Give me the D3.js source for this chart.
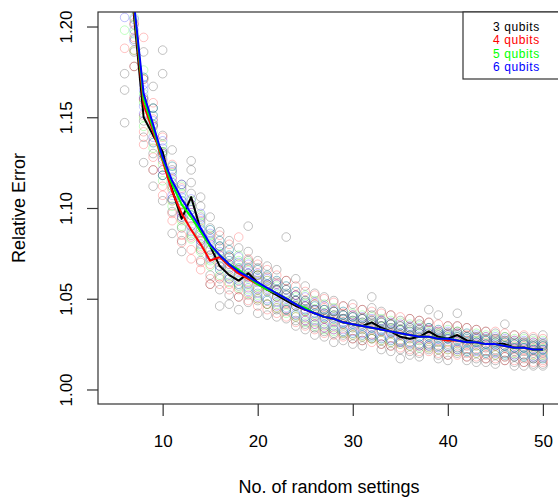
<!DOCTYPE html>
<html>
<head>
<meta charset="utf-8">
<script src="https://cdn.jsdelivr.net/npm/d3@7"></script>
<style>
  body { margin: 0; background: #fff; }
  svg text { font-family: "Liberation Sans", Arial, sans-serif; }
</style>
</head>
<body>
<svg id="chart" width="558" height="497"></svg>
<script>
// ---- data ----
const settings = [6, 7, 8, 9, 10, 11, 12, 13, 14, 15, 16, 17, 18, 19, 20, 21, 22, 23, 24, 25, 26, 27, 28,
  29, 30, 31, 32, 33, 34, 35, 36, 37, 38, 39, 40, 41, 42, 43, 44, 45, 46, 47, 48, 49, 50];

const seriesNames = ["3 qubits", "4 qubits", "5 qubits", "6 qubits"];
const seriesColors = ["#000000", "#ff0000", "#00ff00", "#0000ff"];

// mean relative error (lines)
const q3Mean = [1.260, 1.205, 1.150, 1.140, 1.131, 1.110, 1.094, 1.106, 1.088, 1.079, 1.068, 1.063, 1.060, 1.064, 1.059,
  1.055, 1.052, 1.049, 1.046, 1.044, 1.042, 1.040, 1.039, 1.037, 1.036, 1.035, 1.037, 1.034, 1.032, 1.029, 1.028,
  1.029, 1.032, 1.029, 1.028, 1.030, 1.027, 1.026, 1.025, 1.025, 1.025, 1.023, 1.023, 1.022, 1.022];
const q4Mean = [1.270, 1.208, 1.157, 1.142, 1.126, 1.109, 1.097, 1.088, 1.080, 1.071, 1.073, 1.068, 1.064, 1.061, 1.058,
  1.055, 1.053, 1.050, 1.047, 1.044, 1.042, 1.040, 1.039, 1.037, 1.036, 1.035, 1.034, 1.033, 1.032, 1.031, 1.030,
  1.029, 1.029, 1.028, 1.027, 1.027, 1.026, 1.026, 1.025, 1.025, 1.024, 1.023, 1.023, 1.022, 1.022];
const q5Mean = [1.270, 1.210, 1.160, 1.144, 1.127, 1.113, 1.102, 1.095, 1.087, 1.079, 1.074, 1.069, 1.066, 1.062, 1.058,
  1.055, 1.053, 1.050, 1.047, 1.045, 1.042, 1.040, 1.039, 1.037, 1.036, 1.035, 1.034, 1.033, 1.032, 1.031, 1.030,
  1.029, 1.029, 1.028, 1.028, 1.027, 1.026, 1.026, 1.025, 1.025, 1.024, 1.023, 1.023, 1.022, 1.022];
const q6Mean = [1.270, 1.212, 1.163, 1.146, 1.128, 1.115, 1.105, 1.097, 1.089, 1.080, 1.074, 1.069, 1.065, 1.062, 1.059,
  1.056, 1.053, 1.050, 1.047, 1.044, 1.042, 1.040, 1.039, 1.037, 1.036, 1.035, 1.034, 1.033, 1.032, 1.031, 1.030,
  1.029, 1.029, 1.028, 1.028, 1.027, 1.026, 1.026, 1.025, 1.025, 1.024, 1.023, 1.023, 1.022, 1.022];

// individual runs (circles), one row per number of settings
const q3Pts = [
  [1.174, 1.165, 1.147, 1.232, 1.281, 1.305], [1.186, 1.193, 1.178, 1.215, 1.240, 1.201],
  [1.171, 1.148, 1.125, 1.139, 1.160, 1.186], [1.167, 1.130, 1.112, 1.146, 1.155, 1.121],
  [1.187, 1.174, 1.131, 1.104, 1.118, 1.140], [1.098, 1.121, 1.086, 1.112, 1.105, 1.132],
  [1.076, 1.089, 1.102, 1.082, 1.113, 1.095], [1.121, 1.114, 1.099, 1.108, 1.085, 1.126],
  [1.071, 1.095, 1.083, 1.106, 1.077, 1.101], [1.063, 1.089, 1.074, 1.095, 1.058, 1.082],
  [1.046, 1.061, 1.079, 1.068, 1.087, 1.055], [1.052, 1.073, 1.061, 1.082, 1.047, 1.067],
  [1.044, 1.066, 1.057, 1.078, 1.051, 1.063], [1.090, 1.071, 1.058, 1.064, 1.048, 1.076],
  [1.042, 1.063, 1.071, 1.055, 1.049, 1.067], [1.047, 1.062, 1.055, 1.068, 1.041, 1.058],
  [1.044, 1.059, 1.051, 1.066, 1.040, 1.055], [1.084, 1.047, 1.039, 1.053, 1.060, 1.044],
  [1.038, 1.052, 1.046, 1.061, 1.035, 1.049], [1.036, 1.048, 1.043, 1.057, 1.033, 1.046],
  [1.034, 1.047, 1.040, 1.053, 1.030, 1.044], [1.032, 1.044, 1.039, 1.051, 1.029, 1.041],
  [1.031, 1.043, 1.037, 1.049, 1.026, 1.040], [1.030, 1.041, 1.036, 1.046, 1.027, 1.039],
  [1.028, 1.040, 1.034, 1.047, 1.025, 1.037], [1.027, 1.039, 1.033, 1.044, 1.024, 1.036],
  [1.030, 1.045, 1.037, 1.051, 1.028, 1.041], [1.025, 1.038, 1.032, 1.043, 1.022, 1.035],
  [1.024, 1.036, 1.031, 1.041, 1.021, 1.033], [1.017, 1.030, 1.026, 1.038, 1.022, 1.033],
  [1.021, 1.033, 1.028, 1.039, 1.019, 1.030], [1.020, 1.032, 1.027, 1.038, 1.018, 1.036],
  [1.024, 1.037, 1.031, 1.044, 1.022, 1.034], [1.019, 1.031, 1.026, 1.041, 1.017, 1.029],
  [1.019, 1.030, 1.025, 1.035, 1.016, 1.028], [1.022, 1.035, 1.029, 1.042, 1.020, 1.032],
  [1.018, 1.029, 1.024, 1.034, 1.016, 1.027], [1.017, 1.028, 1.024, 1.033, 1.015, 1.026],
  [1.017, 1.027, 1.023, 1.032, 1.015, 1.025], [1.016, 1.027, 1.022, 1.031, 1.014, 1.024],
  [1.018, 1.029, 1.024, 1.036, 1.016, 1.026], [1.015, 1.025, 1.021, 1.030, 1.013, 1.023],
  [1.015, 1.025, 1.021, 1.029, 1.013, 1.023], [1.014, 1.024, 1.020, 1.028, 1.013, 1.022],
  [1.014, 1.024, 1.020, 1.030, 1.013, 1.022]];
const q4Pts = [
  [1.188, 1.215, 1.262, 1.291, 1.243, 1.320], [1.194, 1.178, 1.202, 1.221, 1.187, 1.235],
  [1.194, 1.160, 1.142, 1.151, 1.171, 1.135], [1.128, 1.149, 1.137, 1.158, 1.121, 1.145],
  [1.112, 1.130, 1.121, 1.139, 1.107, 1.126], [1.097, 1.116, 1.104, 1.124, 1.093, 1.110],
  [1.085, 1.102, 1.094, 1.111, 1.081, 1.098], [1.077, 1.094, 1.084, 1.102, 1.072, 1.090],
  [1.070, 1.086, 1.078, 1.093, 1.066, 1.082], [1.061, 1.077, 1.069, 1.084, 1.058, 1.073],
  [1.062, 1.078, 1.070, 1.085, 1.058, 1.074], [1.058, 1.073, 1.066, 1.080, 1.055, 1.069],
  [1.055, 1.069, 1.062, 1.084, 1.051, 1.066], [1.052, 1.066, 1.059, 1.072, 1.049, 1.062],
  [1.050, 1.063, 1.056, 1.069, 1.046, 1.060], [1.047, 1.060, 1.054, 1.066, 1.044, 1.057],
  [1.045, 1.058, 1.051, 1.063, 1.042, 1.055], [1.043, 1.055, 1.048, 1.060, 1.040, 1.052],
  [1.040, 1.052, 1.046, 1.057, 1.037, 1.049], [1.038, 1.049, 1.043, 1.054, 1.035, 1.046],
  [1.036, 1.047, 1.041, 1.052, 1.033, 1.044], [1.034, 1.045, 1.039, 1.050, 1.031, 1.042],
  [1.033, 1.043, 1.038, 1.048, 1.030, 1.041], [1.031, 1.042, 1.036, 1.046, 1.029, 1.039],
  [1.030, 1.041, 1.035, 1.045, 1.028, 1.038], [1.029, 1.039, 1.034, 1.044, 1.027, 1.037],
  [1.028, 1.038, 1.033, 1.043, 1.026, 1.036], [1.027, 1.037, 1.032, 1.042, 1.025, 1.035],
  [1.026, 1.036, 1.031, 1.041, 1.024, 1.034], [1.025, 1.035, 1.030, 1.040, 1.023, 1.033],
  [1.024, 1.034, 1.029, 1.039, 1.022, 1.032], [1.024, 1.033, 1.028, 1.038, 1.021, 1.031],
  [1.023, 1.033, 1.028, 1.037, 1.021, 1.030], [1.022, 1.032, 1.027, 1.036, 1.020, 1.030],
  [1.022, 1.031, 1.026, 1.035, 1.019, 1.029], [1.021, 1.031, 1.026, 1.035, 1.019, 1.028],
  [1.020, 1.030, 1.025, 1.034, 1.018, 1.027], [1.020, 1.029, 1.025, 1.033, 1.018, 1.027],
  [1.019, 1.029, 1.024, 1.032, 1.017, 1.026], [1.019, 1.028, 1.024, 1.032, 1.017, 1.026],
  [1.018, 1.027, 1.023, 1.031, 1.016, 1.025], [1.018, 1.027, 1.022, 1.030, 1.016, 1.024],
  [1.017, 1.026, 1.022, 1.030, 1.015, 1.024], [1.017, 1.026, 1.021, 1.029, 1.015, 1.023],
  [1.016, 1.025, 1.021, 1.028, 1.015, 1.023]];
const q5Pts = [
  [1.198, 1.230, 1.262, 1.285, 1.251, 1.300], [1.187, 1.205, 1.196, 1.220, 1.212, 1.228],
  [1.150, 1.172, 1.163, 1.158, 1.145, 1.176], [1.136, 1.151, 1.142, 1.133, 1.155, 1.146],
  [1.118, 1.135, 1.124, 1.131, 1.115, 1.129], [1.104, 1.119, 1.111, 1.123, 1.101, 1.114],
  [1.093, 1.108, 1.099, 1.112, 1.090, 1.104], [1.086, 1.101, 1.093, 1.104, 1.083, 1.096],
  [1.079, 1.092, 1.085, 1.096, 1.076, 1.089], [1.071, 1.085, 1.077, 1.088, 1.068, 1.081],
  [1.066, 1.079, 1.072, 1.082, 1.063, 1.075], [1.062, 1.074, 1.068, 1.077, 1.059, 1.071],
  [1.058, 1.071, 1.064, 1.074, 1.056, 1.067], [1.055, 1.067, 1.061, 1.070, 1.053, 1.063],
  [1.052, 1.063, 1.057, 1.066, 1.050, 1.060], [1.049, 1.060, 1.054, 1.063, 1.047, 1.057],
  [1.047, 1.057, 1.052, 1.060, 1.045, 1.055], [1.044, 1.055, 1.049, 1.057, 1.042, 1.052],
  [1.041, 1.051, 1.046, 1.054, 1.040, 1.049], [1.039, 1.049, 1.044, 1.052, 1.037, 1.047],
  [1.037, 1.046, 1.042, 1.049, 1.035, 1.044], [1.035, 1.044, 1.040, 1.047, 1.033, 1.042],
  [1.034, 1.043, 1.039, 1.045, 1.032, 1.041], [1.032, 1.041, 1.037, 1.043, 1.031, 1.039],
  [1.031, 1.040, 1.036, 1.042, 1.030, 1.038], [1.030, 1.039, 1.035, 1.041, 1.029, 1.037],
  [1.029, 1.038, 1.034, 1.040, 1.028, 1.036], [1.028, 1.037, 1.033, 1.039, 1.027, 1.035],
  [1.027, 1.036, 1.032, 1.038, 1.026, 1.034], [1.027, 1.035, 1.031, 1.037, 1.025, 1.033],
  [1.026, 1.034, 1.030, 1.036, 1.024, 1.032], [1.025, 1.033, 1.029, 1.035, 1.023, 1.031],
  [1.025, 1.032, 1.029, 1.034, 1.023, 1.030], [1.024, 1.031, 1.028, 1.033, 1.022, 1.030],
  [1.024, 1.031, 1.028, 1.033, 1.022, 1.029], [1.023, 1.030, 1.027, 1.032, 1.021, 1.029],
  [1.022, 1.029, 1.026, 1.031, 1.021, 1.028], [1.022, 1.029, 1.026, 1.031, 1.020, 1.027],
  [1.021, 1.028, 1.025, 1.030, 1.020, 1.027], [1.021, 1.028, 1.025, 1.030, 1.019, 1.026],
  [1.020, 1.027, 1.024, 1.029, 1.019, 1.026], [1.020, 1.026, 1.023, 1.028, 1.018, 1.025],
  [1.019, 1.026, 1.023, 1.028, 1.018, 1.025], [1.019, 1.025, 1.022, 1.027, 1.017, 1.024],
  [1.019, 1.025, 1.022, 1.027, 1.017, 1.024]];
const q6Pts = [
  [1.205, 1.238, 1.260, 1.282, 1.270, 1.295], [1.192, 1.204, 1.211, 1.219, 1.198, 1.226],
  [1.156, 1.168, 1.161, 1.172, 1.152, 1.165], [1.139, 1.151, 1.145, 1.155, 1.136, 1.148],
  [1.121, 1.133, 1.127, 1.137, 1.118, 1.130], [1.107, 1.120, 1.114, 1.123, 1.105, 1.117],
  [1.097, 1.110, 1.104, 1.113, 1.095, 1.106], [1.090, 1.102, 1.096, 1.105, 1.087, 1.099],
  [1.082, 1.094, 1.088, 1.097, 1.080, 1.091], [1.074, 1.086, 1.080, 1.088, 1.072, 1.083],
  [1.068, 1.079, 1.074, 1.082, 1.066, 1.076], [1.063, 1.074, 1.069, 1.077, 1.061, 1.071],
  [1.060, 1.070, 1.065, 1.073, 1.058, 1.067], [1.056, 1.067, 1.062, 1.069, 1.054, 1.064],
  [1.053, 1.064, 1.059, 1.066, 1.051, 1.061], [1.050, 1.061, 1.056, 1.063, 1.049, 1.058],
  [1.048, 1.058, 1.053, 1.060, 1.046, 1.055], [1.045, 1.055, 1.050, 1.057, 1.044, 1.052],
  [1.042, 1.052, 1.047, 1.054, 1.041, 1.049], [1.040, 1.049, 1.044, 1.051, 1.038, 1.046],
  [1.038, 1.046, 1.042, 1.048, 1.036, 1.044], [1.036, 1.044, 1.040, 1.046, 1.034, 1.042],
  [1.035, 1.043, 1.039, 1.044, 1.033, 1.041], [1.033, 1.041, 1.037, 1.043, 1.032, 1.039],
  [1.032, 1.040, 1.036, 1.041, 1.031, 1.038], [1.031, 1.039, 1.035, 1.040, 1.030, 1.037],
  [1.030, 1.038, 1.034, 1.039, 1.029, 1.036], [1.029, 1.037, 1.033, 1.038, 1.028, 1.035],
  [1.028, 1.036, 1.032, 1.037, 1.027, 1.034], [1.027, 1.035, 1.031, 1.036, 1.026, 1.033],
  [1.026, 1.034, 1.030, 1.035, 1.025, 1.032], [1.025, 1.033, 1.029, 1.034, 1.024, 1.031],
  [1.025, 1.033, 1.029, 1.034, 1.024, 1.031], [1.024, 1.032, 1.028, 1.033, 1.023, 1.030],
  [1.024, 1.031, 1.028, 1.032, 1.023, 1.030], [1.023, 1.030, 1.027, 1.031, 1.022, 1.029],
  [1.022, 1.029, 1.026, 1.031, 1.021, 1.028], [1.022, 1.029, 1.026, 1.030, 1.021, 1.028],
  [1.021, 1.028, 1.025, 1.029, 1.020, 1.027], [1.021, 1.028, 1.025, 1.029, 1.020, 1.026],
  [1.020, 1.027, 1.024, 1.028, 1.019, 1.026], [1.019, 1.026, 1.023, 1.027, 1.018, 1.025],
  [1.019, 1.026, 1.023, 1.027, 1.018, 1.025], [1.018, 1.025, 1.022, 1.026, 1.017, 1.024],
  [1.018, 1.025, 1.022, 1.026, 1.017, 1.024]];

const xTicks = [10, 20, 30, 40, 50];
const yTicks = [1.00, 1.05, 1.10, 1.15, 1.20];

const means = [q3Mean, q4Mean, q5Mean, q6Mean];
const runs = [q3Pts, q4Pts, q5Pts, q6Pts];

// ---- layout ----
const svg = d3.select("#chart");
const margin = { top: 12, left: 98, bottom: 404, right: 560 };

// R style: 4% padding round the data range
const x = d3.scaleLinear().domain([3.2, 51.8]).range([margin.left, margin.right]);
const y = d3.scaleLinear().domain([0.992, 1.208]).range([margin.bottom, margin.top]);

svg.append("defs").append("clipPath").attr("id", "plotclip")
  .append("rect")
  .attr("x", margin.left).attr("y", margin.top)
  .attr("width", margin.right - margin.left).attr("height", margin.bottom - margin.top);

const plot = svg.append("g").attr("clip-path", "url(#plotclip)");

// circles
runs.forEach((rows, si) => {
  const pts = [];
  rows.forEach((row, i) => row.forEach(v => pts.push({ x: settings[i], v: v })));
  plot.append("g")
    .attr("fill", "none")
    .attr("stroke", seriesColors[si])
    .attr("stroke-opacity", si === 0 ? 0.24 : 0.24)
    .attr("stroke-width", 1)
    .selectAll("circle")
    .data(pts)
    .join("circle")
    .attr("cx", d => x(d.x))
    .attr("cy", d => y(d.v))
    .attr("r", 4.3);
});

// mean lines
const line = d3.line().x((d, i) => x(settings[i])).y(d => y(d));
means.forEach((m, si) => {
  plot.append("path")
    .datum(m)
    .attr("fill", "none")
    .attr("stroke", seriesColors[si])
    .attr("stroke-width", 2)
    .attr("stroke-linejoin", "round")
    .attr("d", line);
});

// box
svg.append("rect")
  .attr("x", margin.left).attr("y", margin.top)
  .attr("width", margin.right - margin.left).attr("height", margin.bottom - margin.top)
  .attr("fill", "none").attr("stroke", "#333").attr("stroke-width", 1.2);

// axes
svg.append("g")
  .attr("transform", `translate(${margin.left},0)`)
  .call(d3.axisLeft(y).tickValues(yTicks).tickFormat(d3.format(".2f")).tickSize(11).tickSizeOuter(0))
  .call(g => g.select(".domain").remove())
  .call(g => g.selectAll(".tick line").attr("stroke", "#333").attr("stroke-width", 1.2))
  .call(g => g.selectAll(".tick text")
    .attr("transform", "rotate(-90)")
    .attr("x", 0).attr("y", -26).attr("dy", 0)
    .attr("text-anchor", "middle")
    .attr("fill", "#000")
    .style("font-size", "17px"));

svg.append("g")
  .attr("transform", `translate(0,${margin.bottom})`)
  .call(d3.axisBottom(x).tickValues(xTicks).tickSize(12).tickSizeOuter(0))
  .call(g => g.select(".domain").remove())
  .call(g => g.selectAll(".tick line").attr("stroke", "#333").attr("stroke-width", 1.2))
  .call(g => g.selectAll(".tick text")
    .attr("y", 43).attr("dy", 0)
    .attr("fill", "#000")
    .style("font-size", "17px"));

// axis titles
svg.append("text")
  .attr("x", 329).attr("y", 493)
  .attr("text-anchor", "middle")
  .style("font-size", "18px")
  .text("No. of random settings");

svg.append("text")
  .attr("transform", `translate(25,${(margin.top + margin.bottom) / 2}) rotate(-90)`)
  .attr("text-anchor", "middle")
  .style("font-size", "18px")
  .text("Relative Error");

// legend
const legend = svg.append("g");
legend.append("rect")
  .attr("x", 463).attr("y", margin.top)
  .attr("width", 120).attr("height", 67)
  .attr("fill", "#fff").attr("stroke", "#333").attr("stroke-width", 1.2);
legend.selectAll("text")
  .data(seriesNames)
  .join("text")
  .attr("x", 493)
  .attr("y", (d, i) => 30.5 + i * 13.6)
  .attr("fill", (d, i) => seriesColors[i])
  .style("font-size", "12px")
  .style("letter-spacing", "0.6px")
  .text(d => d);
</script>
</body>
</html>
